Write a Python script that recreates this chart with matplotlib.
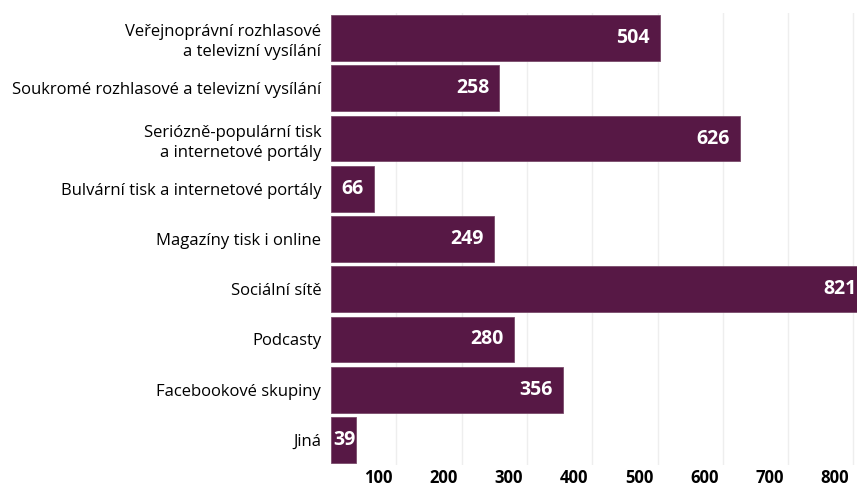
import matplotlib.pyplot as plt
import matplotlib.transforms as mtransforms

plt.rcParams['font.family'] = ['Open Sans', 'DejaVu Sans']

categories = [
    'Veřejnoprávní rozhlasové\na televizní vysílání',
    'Soukromé rozhlasové a televizní vysílání',
    'Seriózně-populární tisk\na internetové portály',
    'Bulvární tisk a internetové portály',
    'Magazíny tisk i online',
    'Sociální sítě',
    'Podcasty',
    'Facebookové skupiny',
    'Jiná',
]
counts = [504, 258, 626, 66, 249, 821, 280, 356, 39]
ticks = [100, 200, 300, 400, 500, 600, 700, 800]

bar_color = '#571845'

fig = plt.figure(figsize=(8.57, 4.86), dpi=100)
# axes runs past the right edge, so the longest bar is cut off
ax = fig.add_axes([331 / 857, 21 / 486, 0.653 * 880 / 857, 452 / 486])

y = list(range(len(categories)))
ax.barh(y, counts, height=0.91, color=bar_color, edgecolor='#7a4b6b', linewidth=0.6, zorder=2)
ax.set_xlim(0, 880)
ax.set_ylim(len(categories) - 0.5, -0.5)

for yi, v in zip(y, counts):
    if v < 50:
        # too short for the usual inset, start the label at the bar base
        ax.annotate(str(v), (0, yi), xytext=(1.5, 0), textcoords='offset points',
                    ha='left', va='center', color='white', fontsize=14,
                    fontweight='bold', zorder=3)
    else:
        ax.annotate(str(v), (v, yi), xytext=(-7.5, 0), textcoords='offset points',
                    ha='right', va='center', color='white', fontsize=14,
                    fontweight='bold', zorder=3)

ax.set_yticks(y)
ax.set_yticklabels(categories, fontsize=12, ha='right', linespacing=1.35)
ax.tick_params(axis='y', length=0, pad=7)

ax.set_xticks(ticks)
ax.set_xticklabels([str(t) for t in ticks], fontsize=12, fontweight='bold')
ax.tick_params(axis='x', length=0, pad=3)
shift = mtransforms.ScaledTranslation(-3 / 72, 0, fig.dpi_scale_trans)
for lab in ax.get_xticklabels():
    lab.set_ha('right')
    lab.set_transform(lab.get_transform() + shift)

ax.grid(axis='x', color='#eeeeee', linewidth=1, zorder=0)
for s in ax.spines.values():
    s.set_visible(False)

fig.savefig('out.png', dpi=100)
